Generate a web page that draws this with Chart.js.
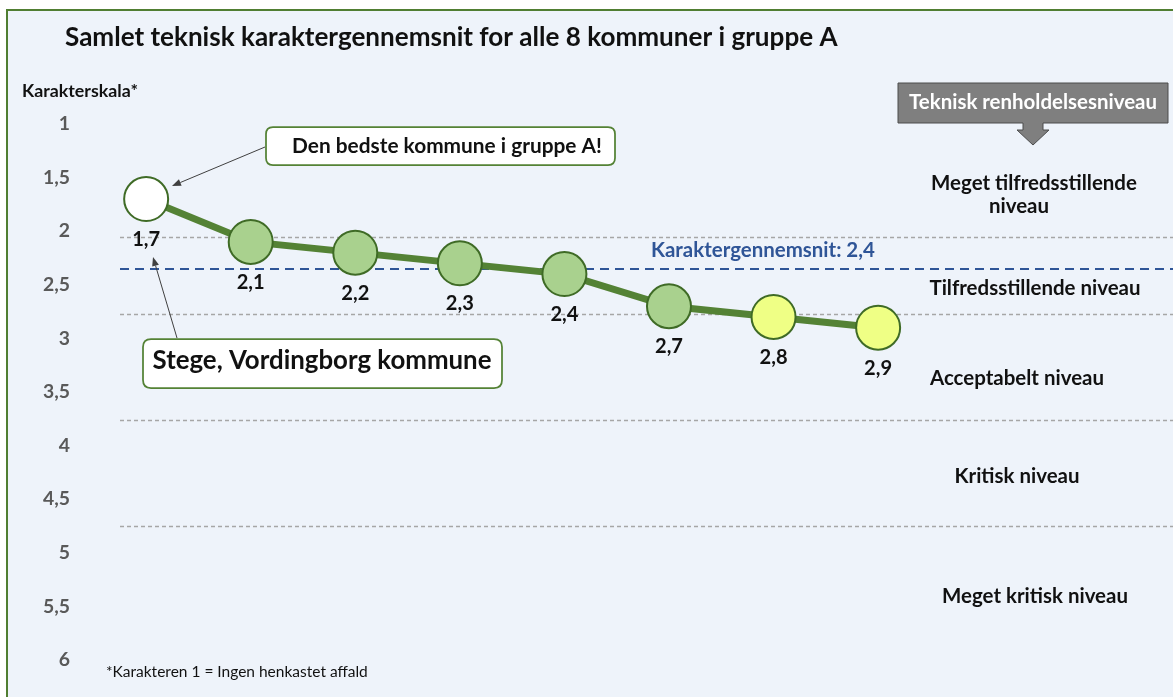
<!DOCTYPE html>
<html><head><meta charset="utf-8">
<script src="https://cdn.jsdelivr.net/npm/chart.js@4.4.1/dist/chart.umd.min.js"></script>
<style>html,body{margin:0;padding:0;background:#fff;}</style>
</head><body>
<canvas id="c" width="1173" height="697"></canvas>
<script>
// ---- data ----
const municipalityIndex = [1, 2, 3, 4, 5, 6, 7, 8];
const values = [1.7, 2.1, 2.2, 2.3, 2.4, 2.7, 2.8, 2.9];
const yTicks = [1, 1.5, 2, 2.5, 3, 3.5, 4, 4.5, 5, 5.5, 6];
const levelBoundaries = [2.05, 2.77, 3.76, 4.75];
const meanValue = 2.4;
const meanLinePosition = 2.35;
const title = 'Samlet teknisk karaktergennemsnit for alle 8 kommuner i gruppe A';
const yAxisTitle = 'Karakterskala*';
const footnote = '*Karakteren 1 = Ingen henkastet affald';
const levelHeader = 'Teknisk renholdelsesniveau';
const levelLabels = ['Meget tilfredsstillende', 'niveau', 'Tilfredsstillende niveau', 'Acceptabelt niveau', 'Kritisk niveau', 'Meget kritisk niveau'];
const calloutBest = 'Den bedste kommune i gruppe A!';
const calloutStege = 'Stege, Vordingborg kommune';

// ---- helpers ----
const W = 1173, H = 697;
const FAMILY = 'Lato, "Open Sans", sans-serif';
const mctx = document.createElement('canvas').getContext('2d');
function fitSize(text, width, weight) {
  mctx.font = weight + ' 100px ' + FAMILY;
  return 100 * width / mctx.measureText(text).width;
}
const fmt = v => String(v).replace('.', ',');
const tickSize = fitSize('1,5', 27, 'bold');
const labelSize = fitSize('2,1', 28, 'bold');
const levelSize = fitSize('Meget kritisk niveau', 186, 'bold');

function drawText(c, text, x, y, align, size, weight, color) {
  c.save();
  c.font = weight + ' ' + size + 'px ' + FAMILY;
  c.fillStyle = color; c.textAlign = align; c.textBaseline = 'alphabetic';
  c.fillText(text, x, y);
  c.restore();
}
function drawFit(c, text, x, y, align, width, weight, color) {
  drawText(c, text, x, y, align, fitSize(text, width, weight), weight, color);
}
function rrect(c, x, y, w, h, r) {
  c.beginPath();
  c.moveTo(x + r, y); c.lineTo(x + w - r, y); c.quadraticCurveTo(x + w, y, x + w, y + r);
  c.lineTo(x + w, y + h - r); c.quadraticCurveTo(x + w, y + h, x + w - r, y + h);
  c.lineTo(x + r, y + h); c.quadraticCurveTo(x, y + h, x, y + h - r);
  c.lineTo(x, y + r); c.quadraticCurveTo(x, y, x + r, y); c.closePath();
}
function arrow(c, x1, y1, x2, y2) {
  c.save();
  c.strokeStyle = '#404040'; c.fillStyle = '#404040'; c.lineWidth = 1;
  const a = Math.atan2(y2 - y1, x2 - x1), L = 9, Wd = 3.5;
  const bx = x2 - L * Math.cos(a), by = y2 - L * Math.sin(a);
  c.beginPath(); c.moveTo(x1, y1); c.lineTo(bx, by); c.stroke();
  c.beginPath(); c.moveTo(x2, y2);
  c.lineTo(bx + Wd * Math.sin(a), by - Wd * Math.cos(a));
  c.lineTo(bx - Wd * Math.sin(a), by + Wd * Math.cos(a));
  c.closePath(); c.fill();
  c.restore();
}

const overlay = {
  id: 'overlay',
  beforeDraw(chart) {
    const c = chart.ctx;
    c.save();
    c.fillStyle = '#ffffff'; c.fillRect(0, 0, W, H);
    c.fillStyle = '#eef3fa'; c.fillRect(8, 11, W - 8, H - 11);
    c.strokeStyle = '#507e32'; c.lineWidth = 2;
    c.beginPath(); c.moveTo(7, H); c.lineTo(7, 10); c.lineTo(W, 10); c.stroke();
    c.restore();
  },
  beforeDatasetsDraw(chart) {
    const c = chart.ctx, y = chart.scales.y, x0 = chart.chartArea.left, x1 = W;
    c.save();
    c.strokeStyle = '#a6a6a6'; c.lineWidth = 1.5; c.setLineDash([4, 3]);
    levelBoundaries.forEach(v => {
      const py = Math.round(y.getPixelForValue(v)) + 0.5;
      c.beginPath(); c.moveTo(x0, py); c.lineTo(x1, py); c.stroke();
    });
    c.strokeStyle = '#2f5597'; c.lineWidth = 2; c.setLineDash([9, 6]);
    const my = Math.round(y.getPixelForValue(meanLinePosition));
    c.beginPath(); c.moveTo(x0, my); c.lineTo(x1, my); c.stroke();
    c.restore();
  },
  afterDatasetsDraw(chart) {
    const c = chart.ctx, meta = chart.getDatasetMeta(0);
    meta.data.forEach((pt, i) => {
      drawText(c, fmt(values[i]), pt.x, pt.y + 47, 'center', labelSize, 'bold', '#111111');
    });
  },
  afterDraw(chart) {
    const c = chart.ctx;
    drawFit(c, title, 65, 46, 'left', 773, 'bold', '#111111');
    drawFit(c, yAxisTitle, 22, 97, 'left', 116, 'bold', '#111111');
    drawFit(c, footnote, 106, 677, 'left', 262, 'normal', '#111111');
    drawFit(c, 'Karaktergennemsnit: ' + fmt(meanValue), 651, 257, 'left', 224, 'bold', '#2f5597');

    // level header box with down arrow
    c.save();
    c.beginPath();
    c.moveTo(898, 83); c.lineTo(1168, 83); c.lineTo(1168, 123);
    c.lineTo(1043, 123); c.lineTo(1043, 130); c.lineTo(1049, 130);
    c.lineTo(1033, 145); c.lineTo(1017, 130); c.lineTo(1023, 130);
    c.lineTo(1023, 123); c.lineTo(898, 123); c.closePath();
    c.fillStyle = '#7f7f7f'; c.fill();
    c.strokeStyle = '#4d4d4d'; c.lineWidth = 1; c.stroke();
    c.restore();
    drawFit(c, levelHeader, 1033, 109, 'center', 248, 'bold', '#ffffff');

    // level labels
    const lv = [[1034, 190], [1019, 213], [1035, 295], [1017, 385], [1017, 483], [1035, 603]];
    levelLabels.forEach((t, i) => drawText(c, t, lv[i][0], lv[i][1], 'center', levelSize, 'bold', '#111111'));

    // callouts
    c.save();
    c.fillStyle = '#ffffff'; c.strokeStyle = '#548235'; c.lineWidth = 1.75;
    rrect(c, 266, 127, 349, 38, 7); c.fill(); c.stroke();
    rrect(c, 143, 339, 359, 49, 8); c.fill(); c.stroke();
    c.restore();
    drawFit(c, calloutBest, 447, 153, 'center', 310, 'bold', '#111111');
    drawFit(c, calloutStege, 322, 369, 'center', 339, 'bold', '#111111');
    arrow(c, 265, 147, 172, 186);
    arrow(c, 177, 338, 153, 257);
  }
};

const pointFill = ctx => {
  if (ctx.dataIndex === 0) return '#ffffff';
  const v = values[ctx.dataIndex];
  return v <= levelBoundaries[1] ? '#a9d18e' : '#efff85';
};

new Chart(document.getElementById('c'), {
  type: 'line',
  data: {
    datasets: [{
      data: municipalityIndex.map((m, i) => ({ x: m, y: values[i] })),
      borderColor: '#548235',
      borderWidth: 7,
      tension: 0,
      clip: false,
      pointRadius: 22,
      pointHoverRadius: 22,
      pointBorderWidth: 2,
      pointBorderColor: '#3f6b26',
      pointBackgroundColor: pointFill
    }]
  },
  options: {
    responsive: false,
    devicePixelRatio: 1,
    animation: false,
    events: [],
    layout: { autoPadding: false, padding: { left: 8, top: 124, right: 0, bottom: 37 } },
    plugins: { legend: { display: false }, tooltip: { enabled: false } },
    scales: {
      x: { type: 'linear', min: 0.75, max: 10.82, display: false },
      y: {
        type: 'linear', reverse: true, min: 1, max: 6,
        afterBuildTicks: s => { s.ticks = yTicks.map(v => ({ value: v })); },
        afterFit: s => { s.width = 112; s.paddingTop = 0; s.paddingBottom = 0; },
        grid: { display: false, drawTicks: false },
        border: { display: false },
        ticks: {
          padding: 50,
          color: '#595959',
          font: { family: FAMILY, size: tickSize, weight: 'bold' },
          callback: v => fmt(v)
        }
      }
    }
  },
  plugins: [overlay]
});
</script>
</body></html>
